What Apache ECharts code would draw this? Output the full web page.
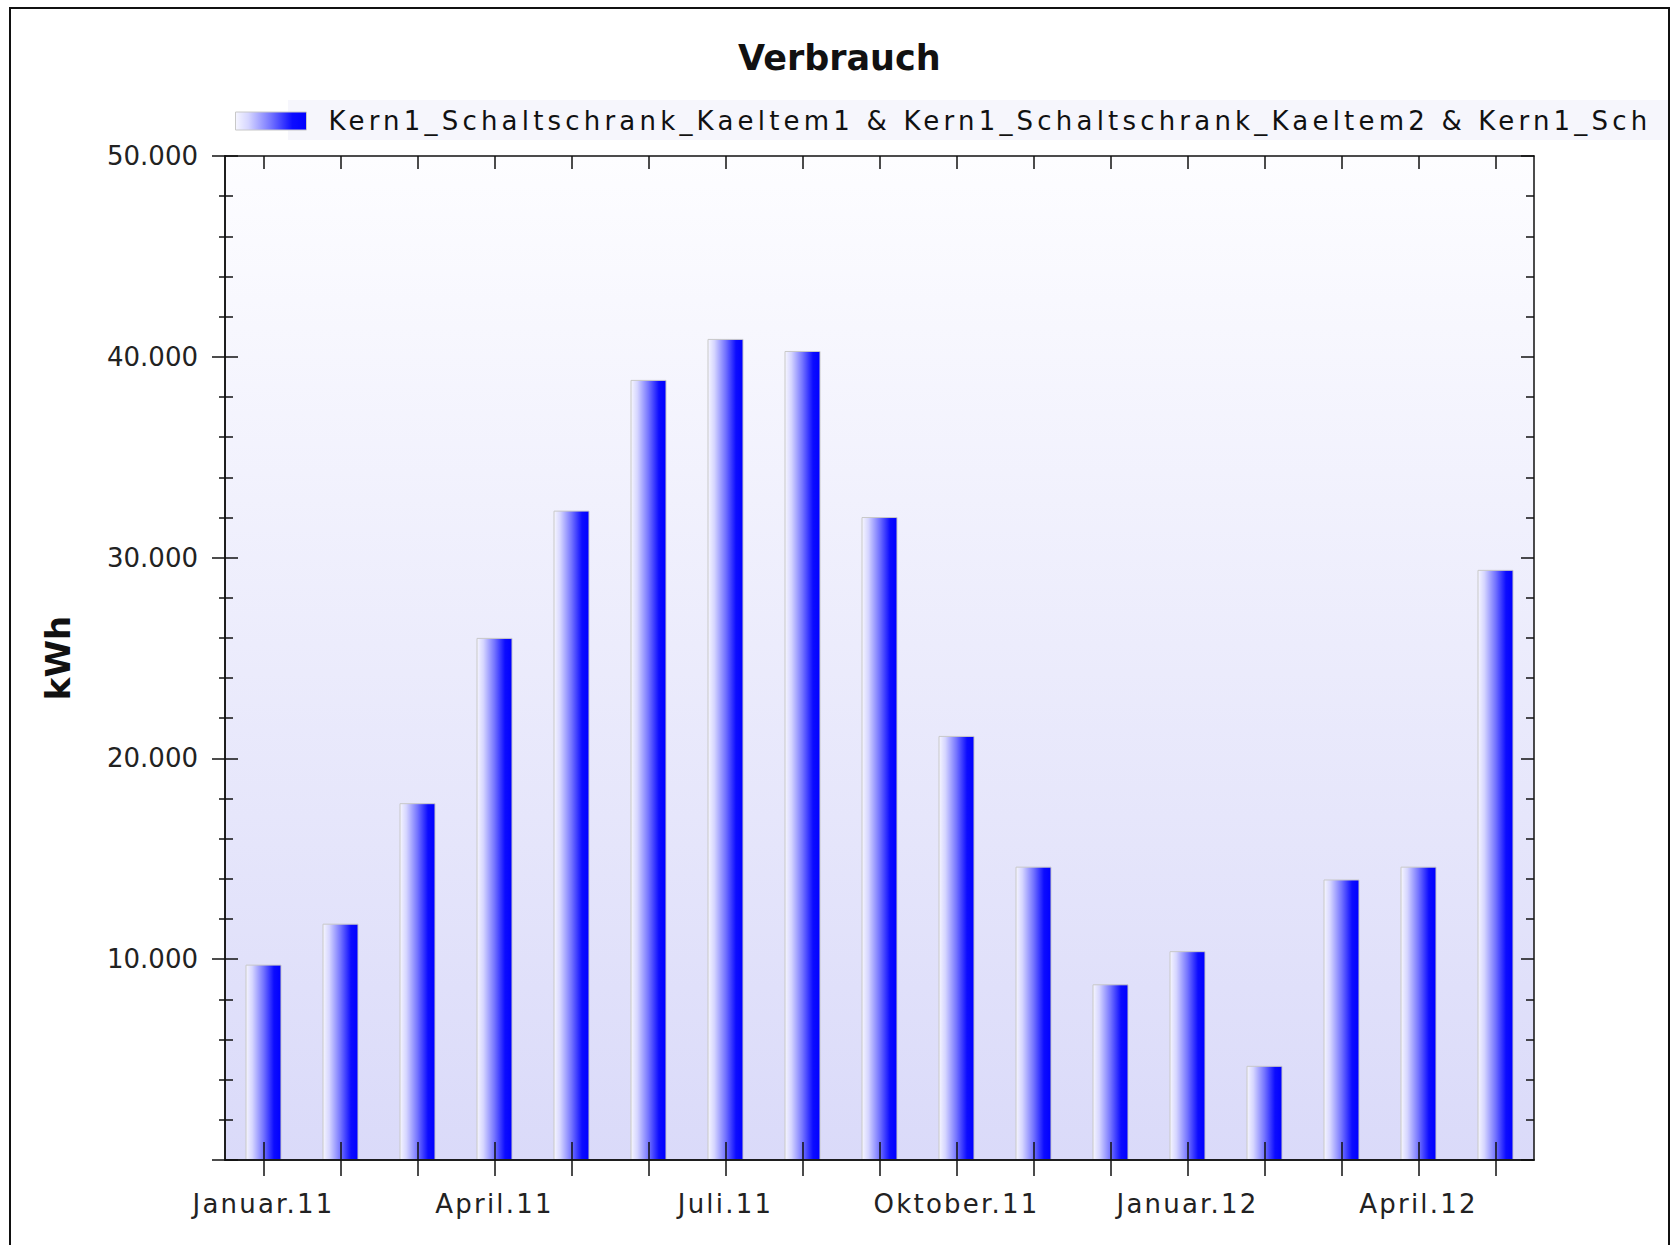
<!DOCTYPE html>
<html>
<head>
<meta charset="utf-8">
<title>Verbrauch</title>
<script src="https://cdn.jsdelivr.net/npm/echarts@6/dist/echarts.min.js"></script>
<style>
  html, body { margin: 0; padding: 0; background: #fff; overflow: hidden; }
  #frame {
    position: absolute; left: 9px; top: 7px; width: 1661px; height: 1400px;
    border: 2px solid #111; box-sizing: border-box; pointer-events: none; z-index: 2;
  }
  #mycharts { position: absolute; left: 0; top: 0; width: 1668px; height: 1245px; }
  /* the old chart spreads its legend / x labels out */
  #mycharts text[style*="Tahoma"] { letter-spacing: 4.2px; }
  #mycharts text[style*="Geneva"] { letter-spacing: 2.2px; }
</style>
</head>
<body>
<div id="mycharts"></div>
<div id="frame"></div>
<script>
// monthly consumption, kWh
const months = [
  "Januar.11", "Februar.11", "März.11", "April.11", "Mai.11", "Juni.11",
  "Juli.11", "August.11", "September.11", "Oktober.11", "November.11", "Dezember.11",
  "Januar.12", "Februar.12", "März.12", "April.12", "Mai.12"
];
const verbrauch = [
  9730, 11770, 17770, 26000, 32340, 38850,
  40890, 40290, 32020, 21120, 14610, 8750,
  10400, 4690, 13970, 14610, 29390
];
// legend text as far as the old chart shows it
const seriesName =
  "Kern1_Schaltschrank_Kaeltem1 & Kern1_Schaltschrank_Kaeltem2 & Kern1_Sch";

const yMin = 0;
const yMax = 50000;
const yStep = 10000;

var chartDom = document.getElementById("mycharts");
var myChart = echarts.init(chartDom, null, { renderer: "svg" });
var option;

const axisColor = "#111";
const barFill = new echarts.graphic.LinearGradient(0, 0, 1, 0, [
  { offset: 0, color: "#f6f6ff" },
  { offset: 0.18, color: "#d6d6ff" },
  { offset: 0.5, color: "#7474ff" },
  { offset: 0.8, color: "#0c0cff" },
  { offset: 1, color: "#0000ff" }
]);
const plotBg = new echarts.graphic.LinearGradient(0, 0, 0, 1, [
  { offset: 0, color: "#fdfdff" },
  { offset: 1, color: "#dadaf9" }
]);

function yLabel(v) {
  if (v === 0) return "";
  return v / 1000 + ".000";
}

// one value axis, several copies to get ticks on both sides of the line
function valueAxis(pos, inside, major, minor, labels) {
  return {
    type: "value",
    position: pos,
    min: yMin,
    max: yMax,
    interval: yStep,
    z: 10,
    axisLine: { show: true, onZero: false, lineStyle: { color: axisColor, width: 1.5 } },
    axisTick: { show: true, inside: inside, length: major, lineStyle: { color: axisColor, width: 1.5 } },
    minorTick: { show: true, splitNumber: 5, length: minor, lineStyle: { color: axisColor, width: 1.5 } },
    splitLine: { show: false },
    axisLabel: labels
      ? { show: true, margin: 27, formatter: yLabel, color: "#222", fontSize: 26, fontFamily: "DejaVu Sans" }
      : { show: false }
  };
}

function catAxis(pos, inside, len, labels) {
  return {
    type: "category",
    position: pos,
    data: months,
    boundaryGap: true,
    z: 10,
    axisLine: { show: true, onZero: false, lineStyle: { color: axisColor, width: 1.5 } },
    axisTick: { show: true, alignWithLabel: true, interval: 0, inside: inside, length: len, lineStyle: { color: axisColor, width: 1.5 } },
    splitLine: { show: false },
    axisLabel: labels
      ? { show: true, interval: 2, margin: 31, color: "#222", fontSize: 26, fontFamily: "Geneva, 'DejaVu Sans'" }
      : { show: false }
  };
}

option = {
  backgroundColor: "#fff",
  animation: false,
  title: {
    text: "Verbrauch",
    left: 738,
    top: 40,
    padding: 0,
    textStyle: { fontFamily: "DejaVu Sans", fontWeight: "bold", fontSize: 35, color: "#111" }
  },
  graphic: [
    {
      type: "rect",
      z: -1,
      shape: { x: 288, y: 100, width: 1400, height: 40 },
      style: { fill: "#f6f6fc" }
    }
  ],
  legend: {
    left: 235,
    top: 108,
    padding: 0,
    itemWidth: 71,
    itemHeight: 18,
    icon: "rect",
    data: [seriesName],
    itemStyle: { borderColor: "#c8c8c8", borderWidth: 1 },
    textStyle: {
      fontFamily: "Tahoma, 'DejaVu Sans'",
      fontSize: 26,
      color: "#111",
      padding: [0, 0, 0, 17]
    }
  },
  grid: {
    left: 225,
    top: 156,
    width: 1309,
    height: 1004,
    show: true,
    borderWidth: 0,
    backgroundColor: plotBg,
    containLabel: false
  },
  xAxis: [
    catAxis("bottom", false, 16, true),
    catAxis("bottom", true, 18, false),
    catAxis("top", true, 13, false)
  ],
  yAxis: [
    Object.assign(valueAxis("left", false, 13, 6, true), {
      name: "kWh",
      nameLocation: "middle",
      nameRotate: 90,
      nameGap: 150,
      nameTextStyle: { fontFamily: "DejaVu Sans", fontWeight: "bold", fontSize: 34, color: "#111" }
    }),
    valueAxis("left", true, 13, 8, false),
    valueAxis("right", true, 13, 8, false)
  ],
  series: [
    {
      name: seriesName,
      type: "bar",
      xAxisIndex: 0,
      yAxisIndex: 0,
      barWidth: 36,
      data: verbrauch,
      itemStyle: { color: barFill, borderColor: "#c8c8c8", borderWidth: 1 }
    }
  ]
};

option && myChart.setOption(option);
</script>
</body>
</html>
